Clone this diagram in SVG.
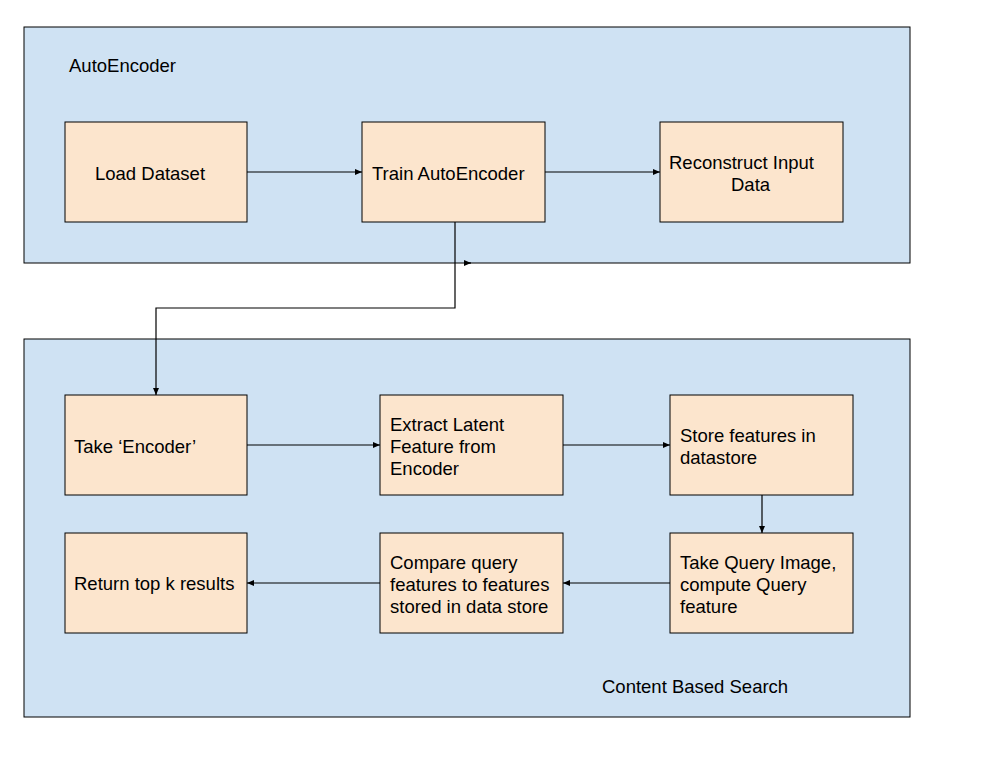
<svg xmlns="http://www.w3.org/2000/svg" width="999" height="763" viewBox="0 0 999 763">
<style>
.grp{fill:#cfe2f3;stroke:#000;stroke-width:1}
.node{fill:#fce5cd;stroke:#000;stroke-width:1}
text{font-family:"Liberation Sans",Arial,sans-serif;font-size:18.5px;fill:#000}
.c{fill:none;stroke:#000;stroke-width:1.2}
</style>
<defs>
<marker id="ah" markerWidth="8" markerHeight="8" refX="7" refY="4" orient="auto" markerUnits="userSpaceOnUse">
<path d="M0,1 L7,4 L0,7 Z" fill="#000"/>
</marker>
</defs>
<rect width="999" height="763" fill="#fff"/>
<g id="group-autoencoder">
<rect class="grp" x="24" y="27" width="886" height="236"/>
<text x="69" y="72">AutoEncoder</text>
</g>
<g id="group-search">
<rect class="grp" x="24" y="339" width="886" height="378"/>
<text x="602" y="693">Content Based Search</text>
</g>
<g id="load">
<rect class="node" x="65" y="122" width="182" height="100"/>
<text x="95" y="180">Load Dataset</text>
</g>
<g id="train">
<rect class="node" x="362" y="122" width="183" height="100"/>
<text x="372" y="180">Train AutoEncoder</text>
</g>
<g id="reconstruct">
<rect class="node" x="660" y="122" width="183" height="100"/>
<text x="669" y="169">Reconstruct Input</text>
<text x="731" y="191">Data</text>
</g>
<g id="encoder">
<rect class="node" x="65" y="395" width="182" height="100"/>
<text x="74" y="453">Take ‘Encoder’</text>
</g>
<g id="extract">
<rect class="node" x="380" y="395" width="183" height="100"/>
<text x="390" y="431">Extract Latent</text>
<text x="390" y="453">Feature from</text>
<text x="390" y="475">Encoder</text>
</g>
<g id="store">
<rect class="node" x="670" y="395" width="183" height="100"/>
<text x="680" y="442">Store features in</text>
<text x="680" y="464">datastore</text>
</g>
<g id="return">
<rect class="node" x="65" y="533" width="182" height="100"/>
<text x="74" y="590">Return top k results</text>
</g>
<g id="compare">
<rect class="node" x="380" y="533" width="183" height="100"/>
<text x="390" y="569">Compare query</text>
<text x="390" y="591">features to features</text>
<text x="390" y="613">stored in data store</text>
</g>
<g id="query">
<rect class="node" x="670" y="533" width="183" height="100"/>
<text x="680" y="569">Take Query Image,</text>
<text x="680" y="591">compute Query</text>
<text x="680" y="613">feature</text>
</g>
<g id="connectors">
<path class="c" d="M247,172 H362" marker-end="url(#ah)"/>
<path class="c" d="M545,172 H660" marker-end="url(#ah)"/>
<path class="c" d="M455,222 V308 H156 V395" marker-end="url(#ah)"/>
<path class="c" d="M464,263 H471" marker-end="url(#ah)"/>
<path class="c" d="M247,445 H380" marker-end="url(#ah)"/>
<path class="c" d="M563,445 H670" marker-end="url(#ah)"/>
<path class="c" d="M762,495 V533" marker-end="url(#ah)"/>
<path class="c" d="M670,583 H563" marker-end="url(#ah)"/>
<path class="c" d="M380,583 H247" marker-end="url(#ah)"/>
</g>
</svg>
